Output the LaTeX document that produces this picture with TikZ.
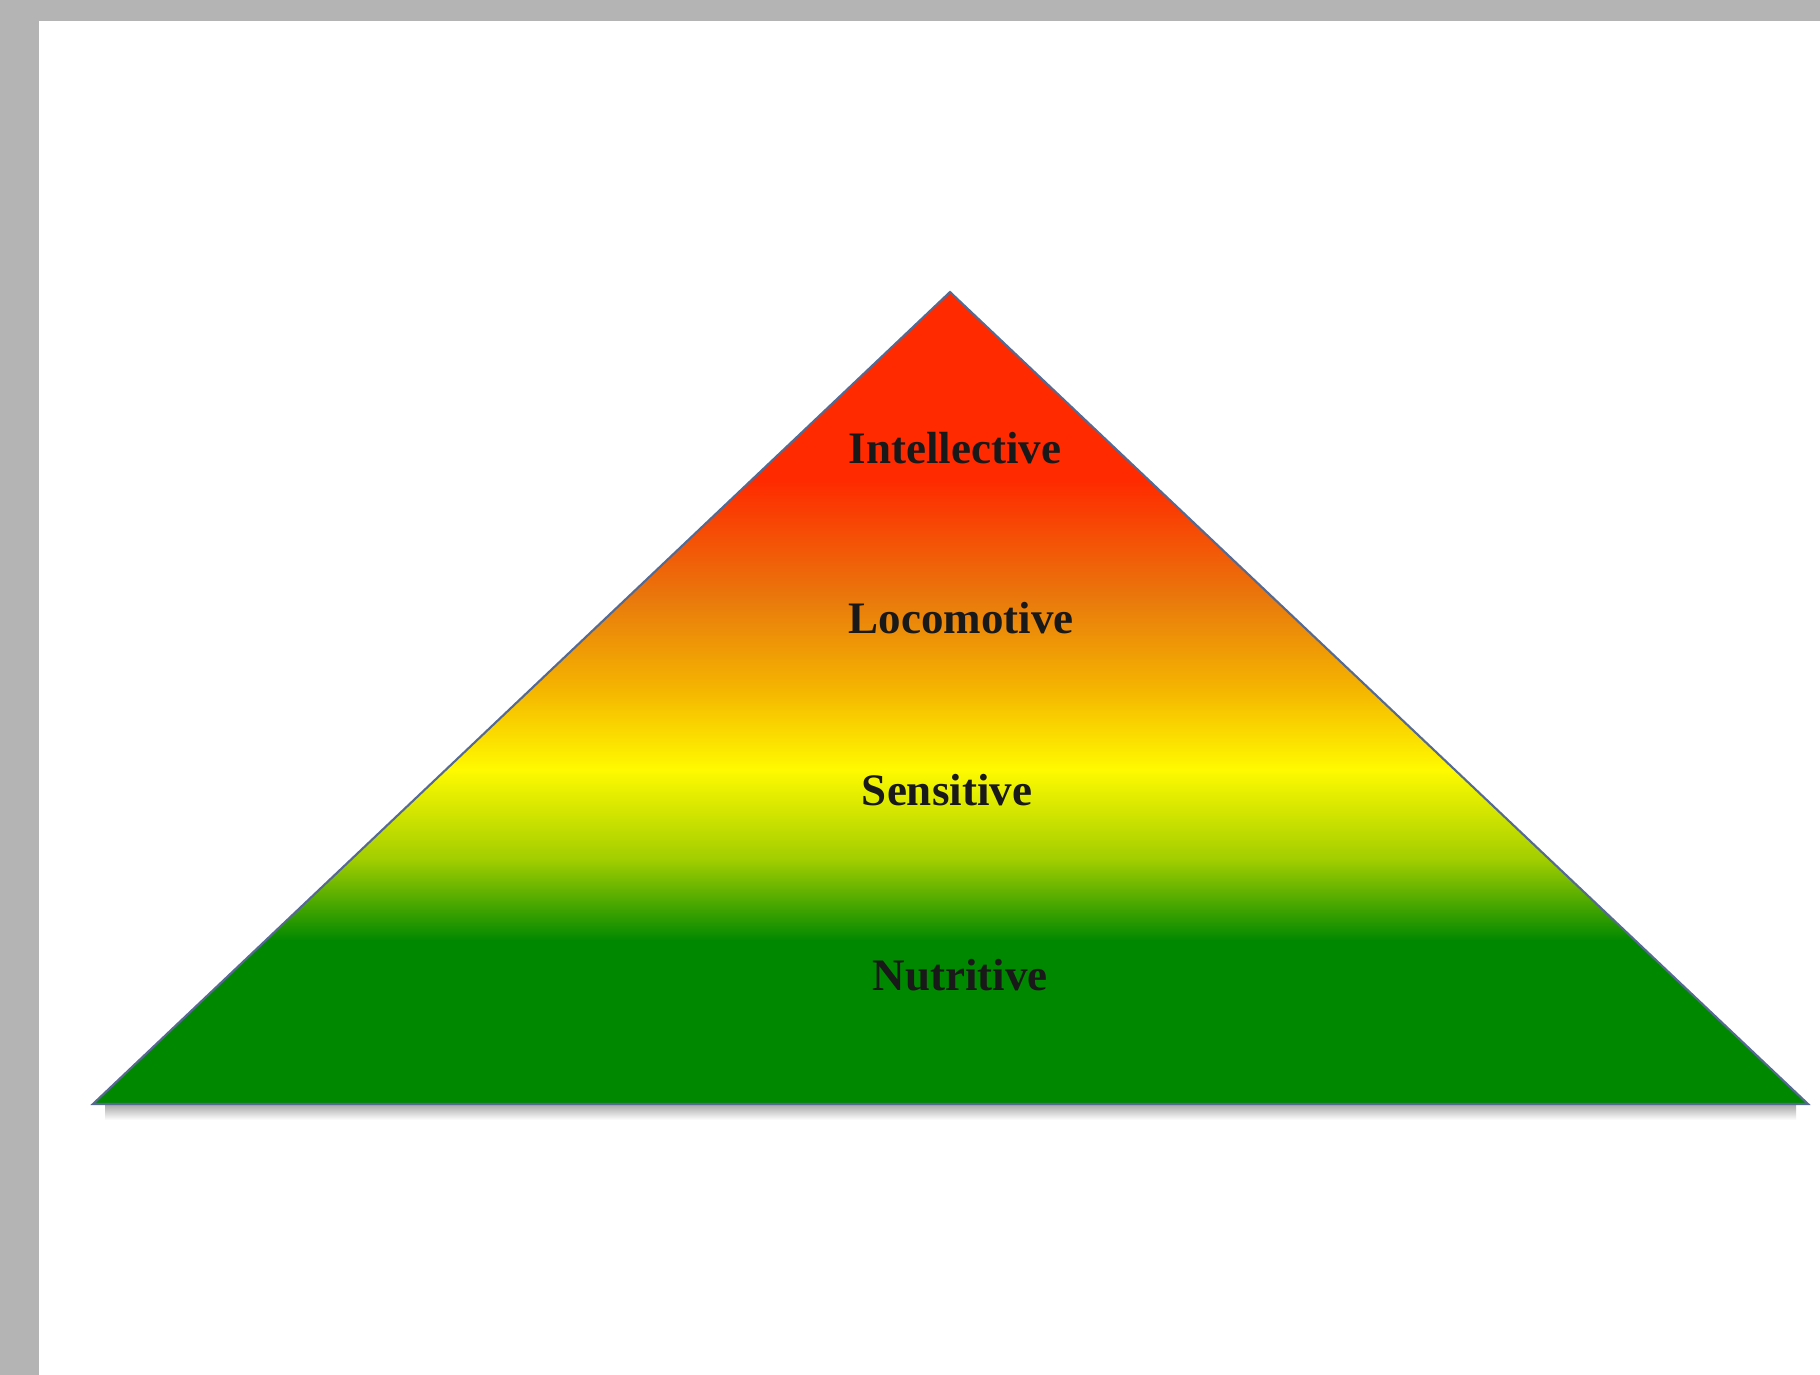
\documentclass[tikz,border=0pt]{standalone}
\usepackage{fontspec}
\setmainfont{Liberation Serif}
\usepackage{tikz}

\definecolor{pagegray}{RGB}{180,180,180}
\definecolor{edgeblue}{RGB}{85,105,145}
\definecolor{pyrred}{RGB}{255,42,0}
\definecolor{pyrorange}{RGB}{233,122,12}
\definecolor{pyramber}{RGB}{245,182,0}
\definecolor{pyryellow}{RGB}{255,250,0}
\definecolor{pyrlime}{RGB}{160,205,0}
\definecolor{pyrgreen}{RGB}{0,136,0}

\tikzset{
  level/.style={font=\fontsize{12.8}{15}\selectfont\bfseries, text=black!90,
    inner sep=0pt, anchor=base}
}

\begin{document}
\begin{tikzpicture}[x=0.01cm, y=-0.01cm]
    % page and its grey frame
    \fill[pagegray] (0, 0) rectangle (1820, 1375);
    \fill[white] (39, 21) rectangle (1820, 1375);

    \coordinate (TOP) at (950, 292);
    \coordinate (BLEFT) at (93, 1104);
    \coordinate (BRIGHT) at (1808, 1104);

    % soft shadow under the base
    \shade[top color=black!35, bottom color=white] (105, 1104) rectangle (1796, 1120);

    \begin{scope}
      \clip (TOP) -- (BRIGHT) -- (BLEFT) -- cycle;
      \foreach \ya/\yb/\ca/\cb in {280/481/pyrred/pyrred,
                                   480/601/pyrred/pyrorange,
                                   600/691/pyrorange/pyramber,
                                   690/770/pyramber/pyryellow,
                                   769/861/pyryellow/pyrlime,
                                   860/941/pyrlime/pyrgreen,
                                   940/1110/pyrgreen/pyrgreen} {
        \shade[top color=\ca, bottom color=\cb] (80, \ya) rectangle (1820, \yb);
      }
    \end{scope}
    \draw[edgeblue, line width=0.6pt] (TOP) -- (BRIGHT) -- (BLEFT) -- cycle;

    \node[level] (intel) at (955, 463) {Intellective};
    \node[level] (loco) at (961, 633) {Locomotive};
    \node[level] (sens) at (947, 805) {Sensitive};
    \node[level] (nutri) at (960, 990) {Nutritive};
  \end{tikzpicture}
\end{document}
